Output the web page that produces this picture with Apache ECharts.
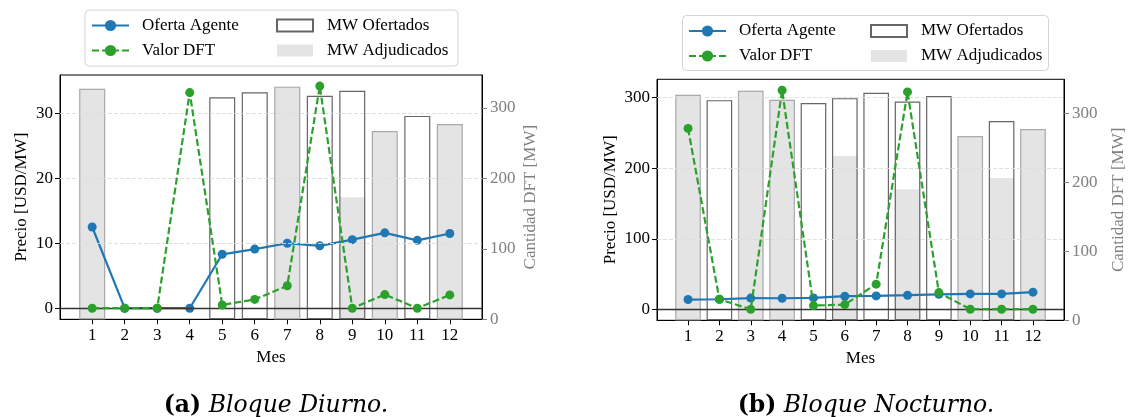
<!DOCTYPE html>
<html><head><meta charset="utf-8">
<script src="https://cdn.jsdelivr.net/npm/echarts@6/dist/echarts.min.js"></script>
<style>html,body{margin:0;padding:0;background:#fff}#c{width:1128px;height:417px}</style>
</head><body><div id="c"></div>
<script>
// ---------- DATA ----------
const months = [1, 2, 3, 4, 5, 6, 7, 8, 9, 10, 11, 12];

// (a) Bloque Diurno
const diurnoOferta       = [12.5, 0, 0, 0, 8.3, 9.1, 10.0, 9.6, 10.55, 11.6, 10.45, 11.5];
const diurnoDFT          = [0, 0, 0, 33.2, 0.5, 1.35, 3.45, 34.2, 0, 2.1, 0, 2.05];
const diurnoOfertados    = [327, 0, 0, 0, 315, 322, 330, 317, 324, 267, 288.5, 277];
const diurnoAdjudicados  = [327, 0, 0, 0, 0, 0, 330, 0, 173, 267, 0, 277];

// (b) Bloque Nocturno
const nocturnoOferta      = [14.2, 14.6, 16.2, 16.0, 16.5, 18.9, 19.3, 20.3, 21.5, 22.2, 22.2, 24.6];
const nocturnoDFT         = [256.5, 14.6, 0.3, 310.5, 5.6, 7.0, 36.0, 308.2, 24.0, 0.5, 0.5, 0.5];
const nocturnoOfertados   = [327.5, 319.7, 333.3, 320.3, 315.4, 322.6, 330.4, 317.8, 325.6, 267.5, 289.3, 277.7];
const nocturnoAdjudicados = [327.5, 0, 333.3, 320.3, 0, 238.5, 0, 190.3, 0, 267.5, 206.7, 277.7];

// tick labels
const diurnoPriceTicks   = [0, 10, 20, 30];
const nocturnoPriceTicks = [0, 100, 200, 300];
const mwTicks            = [0, 100, 200, 300];

const legendLines = ['Oferta Agente', 'Valor DFT'];
const legendBars  = ['MW Ofertados', 'MW Adjudicados'];
const captions = [['(a)', 'Bloque Diurno.'], ['(b)', 'Bloque Nocturno.']];

// ---------- LAYOUT / STYLE ----------
const FONT = 'Liberation Serif';
const CAPFONT = 'DejaVu Serif';
const FS = 17;
const CFS = 23.5;
const panels = [
  { left: 60, top: 75, width: 422, height: 244.3,
    oferta: diurnoOferta, dft: diurnoDFT, of: diurnoOfertados, adj: diurnoAdjudicados, pticks: diurnoPriceTicks,
    frame: { x: 85, y: 10, w: 373, h: 56 }, lineLeg: { left: 91, top: 16.5 }, barLeg: { left: 276, top: 16.5 },
    priceGap: 30, mwGap: 40, caption: { x: 276, y: 406 } },
  { left: 657, top: 79.3, width: 416, height: 241,
    oferta: nocturnoOferta, dft: nocturnoDFT, of: nocturnoOfertados, adj: nocturnoAdjudicados, pticks: nocturnoPriceTicks,
    frame: { x: 682.5, y: 15.5, w: 366, h: 55 }, lineLeg: { left: 688, top: 22 }, barLeg: { left: 870, top: 22 },
    priceGap: 38, mwGap: 46, caption: { x: 866, y: 406 } }
];

const grids = [], xAxes = [], yAxes = [], series = [], legends = [], graphics = [];

panels.forEach((p, i) => {
  const xmin = 0.6 - 0.05 * 11.8, xmax = 12.4 + 0.05 * 11.8;
  const pMin = Math.min(...p.oferta, ...p.dft), pMax = Math.max(...p.oferta, ...p.dft);
  const pr = pMax - pMin;
  const mwMax = Math.max(...p.of) * 1.05;
  const bw = 0.8 * p.width / (xmax - xmin);

  grids.push({ left: p.left, top: p.top, width: p.width, height: p.height, show: true,
    borderColor: '#000', borderWidth: 1, backgroundColor: 'transparent', containLabel: false });

  xAxes.push({ gridIndex: i, type: 'value', min: xmin, max: xmax,
    axisLine: { show: true, onZero: false, lineStyle: { color: '#000', width: 1 } },
    axisTick: { show: true, customValues: months, length: 5, lineStyle: { color: '#000' } },
    axisLabel: { customValues: months, margin: 8, color: '#000', fontFamily: FONT, fontSize: FS },
    splitLine: { show: false },
    name: 'Mes', nameLocation: 'middle', nameGap: 29,
    nameTextStyle: { color: '#000', fontFamily: FONT, fontSize: FS } });

  yAxes.push({ gridIndex: i, type: 'value', position: 'left', min: pMin - 0.05 * pr, max: pMax + 0.05 * pr,
    axisLine: { show: true, onZero: false, lineStyle: { color: '#000', width: 1 } },
    axisTick: { show: true, customValues: p.pticks, length: 5, lineStyle: { color: '#000' } },
    axisLabel: { customValues: p.pticks, margin: 7, color: '#000', fontFamily: FONT, fontSize: FS },
    splitLine: { show: false },
    name: 'Precio [USD/MW]', nameLocation: 'middle', nameGap: p.priceGap, nameRotate: 90,
    nameTextStyle: { color: '#000', fontFamily: FONT, fontSize: FS } });

  yAxes.push({ gridIndex: i, type: 'value', position: 'right', min: 0, max: mwMax,
    axisLine: { show: true, onZero: false, lineStyle: { color: '#000', width: 1 } },
    axisTick: { show: true, customValues: mwTicks, length: 5, lineStyle: { color: '#808080' } },
    axisLabel: { customValues: mwTicks, margin: 8, color: '#808080', fontFamily: FONT, fontSize: FS },
    splitLine: { show: false },
    name: 'Cantidad DFT [MW]', nameLocation: 'middle', nameGap: p.mwGap, nameRotate: 90,
    nameTextStyle: { color: '#808080', fontFamily: FONT, fontSize: FS } });

  const py = 2 * i, my = 2 * i + 1;

  // gridlines (price axis)
  series.push({ type: 'line', xAxisIndex: i, yAxisIndex: py, data: [], z: 1, silent: true,
    markLine: { silent: true, symbol: 'none', label: { show: false }, animation: false,
      lineStyle: { color: '#dddddd', type: [4, 2], width: 0.9 },
      data: p.pticks.filter(v => v !== 0).map(v => ({ yAxis: v })) } });

  // adjudicated bars
  series.push({ type: 'bar', name: 'MW Adjudicados', xAxisIndex: i, yAxisIndex: my, z: 2,
    barWidth: bw, barGap: '-100%',
    itemStyle: { color: 'rgba(211,211,211,0.62)' },
    data: months.map((m, k) => [m, p.adj[k]]).filter(d => d[1] > 0) });

  // offered bars (outline)
  series.push({ type: 'bar', name: 'MW Ofertados', xAxisIndex: i, yAxisIndex: my, z: 2,
    barWidth: bw, barGap: '-100%',
    itemStyle: { color: 'rgba(255,255,255,0)', borderColor: '#666666', borderWidth: 1.2 },
    data: months.map((m, k) => ({ value: [m, p.of[k]],
      itemStyle: { borderColor: p.adj[k] >= p.of[k] ? '#ababab' : '#666666' } }))
      .filter(d => d.value[1] > 0) });

  // zero line
  series.push({ type: 'line', xAxisIndex: i, yAxisIndex: py, data: [], z: 3, silent: true,
    markLine: { silent: true, symbol: 'none', label: { show: false }, animation: false,
      lineStyle: { color: '#333', type: 'solid', width: 1.3 }, data: [{ yAxis: 0 }] } });

  series.push({ type: 'line', name: 'Oferta Agente', xAxisIndex: i, yAxisIndex: py, z: 4,
    color: '#1f77b4', symbol: 'circle', symbolSize: 9,
    lineStyle: { color: '#1f77b4', width: 2.2 }, itemStyle: { color: '#1f77b4' },
    data: months.map((m, k) => [m, p.oferta[k]]) });

  series.push({ type: 'line', name: 'Valor DFT', xAxisIndex: i, yAxisIndex: py, z: 5,
    color: '#2ca02c', symbol: 'circle', symbolSize: 9,
    lineStyle: { color: '#2ca02c', width: 2.2, type: [7, 3] }, itemStyle: { color: '#2ca02c' },
    data: months.map((m, k) => [m, p.dft[k]]) });

  // legend frame
  graphics.push({ type: 'rect', z: 0, silent: true,
    shape: { x: p.frame.x, y: p.frame.y, width: p.frame.w, height: p.frame.h, r: 4 },
    style: { fill: '#fff', stroke: '#d4d4d4', lineWidth: 1 } });

  legends.push({ left: p.lineLeg.left, top: p.lineLeg.top, orient: 'vertical', data: legendLines, padding: 0,
    itemWidth: 37, itemHeight: 14, itemGap: 7, selectedMode: false, z: 5,
    textStyle: { fontFamily: FONT, fontSize: FS, color: '#000', lineHeight: 18, padding: [0, 0, 0, 8] } });
  legends.push({ left: p.barLeg.left, top: p.barLeg.top, orient: 'vertical', data: legendBars, padding: 0,
    icon: 'rect', itemWidth: 36, itemHeight: 12, itemGap: 7, selectedMode: false, z: 5,
    textStyle: { fontFamily: FONT, fontSize: FS, color: '#000', lineHeight: 18, padding: [0, 0, 0, 9] } });

  // caption
  graphics.push({ type: 'text', silent: true, z: 1,
    style: { x: p.caption.x, y: p.caption.y, align: 'center', verticalAlign: 'middle',
      text: '{b|' + captions[i][0] + '} {it|' + captions[i][1] + '}',
      fontFamily: CAPFONT, fontSize: CFS, fill: '#000',
      rich: { b: { fontWeight: 'bold', fontFamily: CAPFONT, fontSize: CFS },
              it: { fontStyle: 'italic', fontFamily: CAPFONT, fontSize: CFS } } } });
});

const chart = echarts.init(document.getElementById('c'), null, { renderer: 'canvas' });
chart.setOption({
  animation: false,
  backgroundColor: '#fff',
  grid: grids, xAxis: xAxes, yAxis: yAxes, series: series, legend: legends, graphic: graphics
});
</script></body></html>
